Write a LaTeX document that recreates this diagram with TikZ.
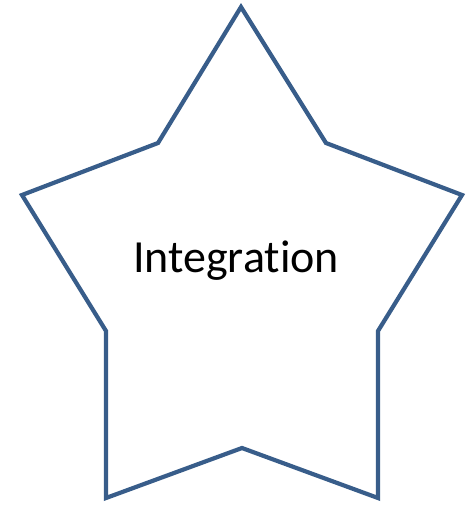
\documentclass[tikz,border=0pt]{standalone}
\usepackage{fontspec}
\setmainfont{Carlito}[Ligatures={NoCommon,NoRare}]
\definecolor{starline}{RGB}{56,93,138}
\tikzset{starshape/.style={draw=starline,line width=4.2pt,line join=miter,fill=white},
  label/.style={font=\fontsize{46}{55}\selectfont,text=black,inner sep=0pt}}
\begin{document}
\begin{tikzpicture}[x=1pt,y=-1pt]
\useasboundingbox (0,0) rectangle (472,505);
\coordinate (p1) at (241,7);
\coordinate (p2) at (326,143);
\coordinate (p3) at (462,195);
\coordinate (p4) at (378,331);
\coordinate (p5) at (378,498);
\coordinate (p6) at (242,448);
\coordinate (p7) at (106,498);
\coordinate (p8) at (106,331);
\coordinate (p9) at (22,195);
\coordinate (p10) at (158,143);
\draw[starshape] (p1) -- (p2) -- (p3) -- (p4) -- (p5) -- (p6) -- (p7) -- (p8) -- (p9) -- (p10) -- cycle;
\node[label,anchor=base] (t) at (236,272) {Integrat\kern0pt ion};
\end{tikzpicture}
\end{document}
